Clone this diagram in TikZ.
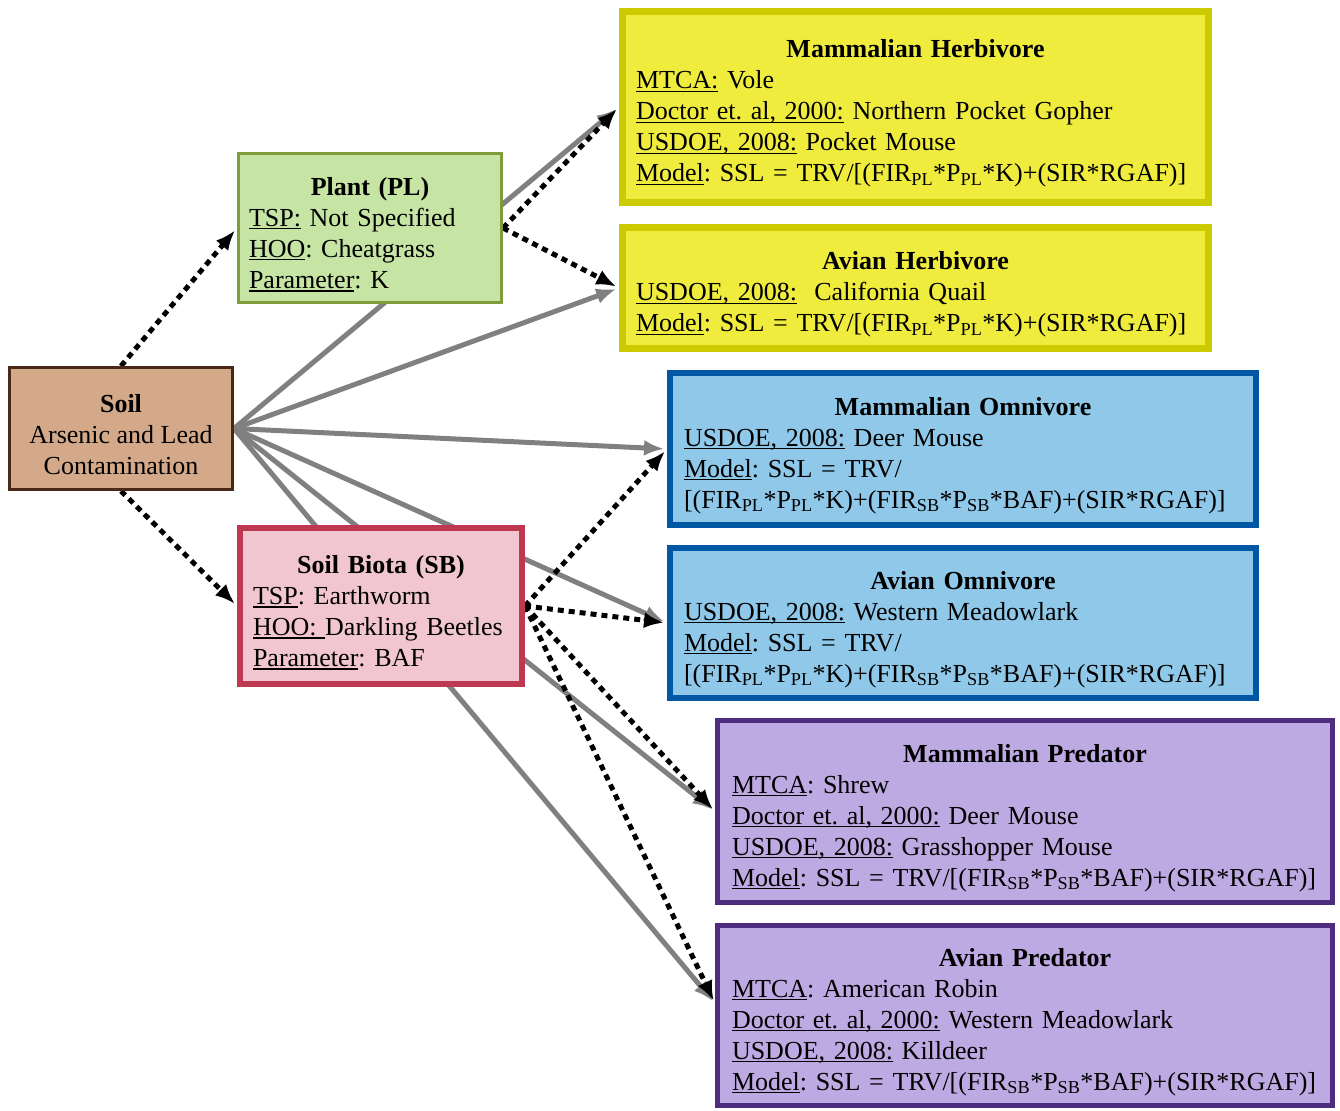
\documentclass[tikz,border=0pt]{standalone}
\usepackage{fontspec}
\setmainfont{Liberation Serif}
\usetikzlibrary{arrows.meta,backgrounds,calc}
\frenchspacing
\newsavebox{\undlbox}
\newcommand{\undl}[1]{\leavevmode\sbox{\undlbox}{#1}\rlap{\rule[-3pt]{\wd\undlbox}{1.2pt}}\usebox{\undlbox}}
\newcommand{\topstr}{\rule{0pt}{31pt}}
\newcommand{\ttl}[1]{\leavevmode\topstr\makebox[\linewidth]{\textbf{#1}}}
\newcommand{\lowtx}[1]{\textsubscript{#1}}
\definecolor{soilfill}{HTML}{D3A98A}
\definecolor{soilline}{HTML}{4A2818}
\definecolor{plantfill}{HTML}{C6E4A4}
\definecolor{plantline}{HTML}{7E9C3C}
\definecolor{sbfill}{HTML}{F1C6D0}
\definecolor{sbline}{HTML}{BF3851}
\definecolor{herbfill}{HTML}{F0EC3E}
\definecolor{herbline}{HTML}{CCCA00}
\definecolor{omnifill}{HTML}{8FC8E8}
\definecolor{omniline}{HTML}{0057A3}
\definecolor{predfill}{HTML}{BEAAE2}
\definecolor{predline}{HTML}{4E2D80}

\begin{document}
\begin{tikzpicture}[x=1pt,y=-1pt,
		box/.style={draw,rectangle,inner sep=0pt,align=left,font=\fontsize{26}{31}\selectfont\frenchspacing},
		solidarrow/.style={draw=gray,line width=5pt,-{Latex[length=20pt,width=16pt]},shorten >=3pt},
		dotarrow/.style={draw=black,line width=5pt,dash pattern=on 6pt off 5pt,-{Latex[length=20pt,width=16pt]},shorten >=3pt}
	]
		\useasboundingbox (0,0) rectangle (1340,1110);
		\node[box,fill=soilfill,draw=soilline,line width=3pt,minimum width=223pt,minimum height=122pt,align=center] (soil) at (121,428.5)
			{\topstr\textbf{Soil}\\Arsenic and Lead\\Contamination};
		\node[box,fill=plantfill,draw=plantline,line width=3pt,minimum width=263pt,minimum height=149pt,text width=242pt] (plant) at (370,228)
			{\ttl{Plant (PL)}\\\undl{TSP:} Not Specified\\\undl{HOO}: Cheatgrass\\\undl{Parameter}: K};
		\node[box,fill=sbfill,draw=sbline,line width=6pt,minimum width=282pt,minimum height=156pt,text width=256pt] (sb) at (381,606)
			{\ttl{Soil Biota (SB)}\\\undl{TSP}: Earthworm\\\undl{HOO:\ }Darkling Beetles\\\undl{Parameter}: BAF};
		% herbivores
		\node[box,fill=herbfill,draw=herbline,line width=7pt,minimum width=586pt,minimum height=191pt,text width=559pt] (mherb) at (915.5,107)
			{\ttl{Mammalian Herbivore}\\\undl{MTCA:} Vole\\\undl{Doctor et. al, 2000:} Northern Pocket Gopher\\\undl{USDOE, 2008:} Pocket Mouse\\
			\undl{Model}: SSL = TRV/[(FIR\lowtx{PL}*P\lowtx{PL}*K)+(SIR*RGAF)]};
		\node[box,fill=herbfill,draw=herbline,line width=7pt,minimum width=586pt,minimum height=121pt,text width=559pt] (aherb) at (915.5,288)
			{\ttl{Avian Herbivore}\\\undl{USDOE, 2008:}\ \ California Quail\\
			\undl{Model}: SSL = TRV/[(FIR\lowtx{PL}*P\lowtx{PL}*K)+(SIR*RGAF)]};
		% omnivores
		\node[box,fill=omnifill,draw=omniline,line width=6pt,minimum width=586pt,minimum height=152pt,text width=558pt] (momni) at (963,449)
			{\ttl{Mammalian Omnivore}\\\undl{USDOE, 2008:} Deer Mouse\\\undl{Model}: SSL = TRV/\\
			{[}(FIR\lowtx{PL}*P\lowtx{PL}*K)+(FIR\lowtx{SB}*P\lowtx{SB}*BAF)+(SIR*RGAF)]};
		\node[box,fill=omnifill,draw=omniline,line width=6pt,minimum width=586pt,minimum height=150pt,text width=558pt] (aomni) at (963,623)
			{\ttl{Avian Omnivore}\\\undl{USDOE, 2008:} Western Meadowlark\\\undl{Model}: SSL = TRV/\\
			{[}(FIR\lowtx{PL}*P\lowtx{PL}*K)+(FIR\lowtx{SB}*P\lowtx{SB}*BAF)+(SIR*RGAF)]};
		% predators
		\node[box,fill=predfill,draw=predline,line width=5pt,minimum width=615pt,minimum height=182pt,text width=586pt] (mpred) at (1025,811.5)
			{\ttl{Mammalian Predator}\\\undl{MTCA}: Shrew\\\undl{Doctor et. al, 2000:} Deer Mouse\\\undl{USDOE, 2008:} Grasshopper Mouse\\
			\undl{Model}: SSL = TRV/[(FIR\lowtx{SB}*P\lowtx{SB}*BAF)+(SIR*RGAF)]};
		\node[box,fill=predfill,draw=predline,line width=5pt,minimum width=615pt,minimum height=180pt,text width=586pt] (apred) at (1025,1015.5)
			{\ttl{Avian Predator}\\\undl{MTCA}: American Robin\\\undl{Doctor et. al, 2000:} Western Meadowlark\\\undl{USDOE, 2008:} Killdeer\\
			\undl{Model}: SSL = TRV/[(FIR\lowtx{SB}*P\lowtx{SB}*BAF)+(SIR*RGAF)]};
		\coordinate (apredin) at ($(apred.west)+(0,-12)$);
		\begin{scope}[on background layer]
			\foreach \t in {mherb,aherb,momni,aomni,mpred}
				\draw[solidarrow] (soil.east) -- (\t.west);
			\draw[solidarrow] (soil.east) -- (apredin);
			\draw[dotarrow] (soil.north) -- (plant.west);
			\draw[dotarrow] (soil.south) -- (sb.west);
			\foreach \t in {mherb,aherb}
				\draw[dotarrow] (plant.east) -- (\t.west);
			\foreach \t in {momni,aomni,mpred}
				\draw[dotarrow] (sb.east) -- (\t.west);
			\draw[dotarrow] (sb.east) -- (apredin);
		\end{scope}
	\end{tikzpicture}
\end{document}
